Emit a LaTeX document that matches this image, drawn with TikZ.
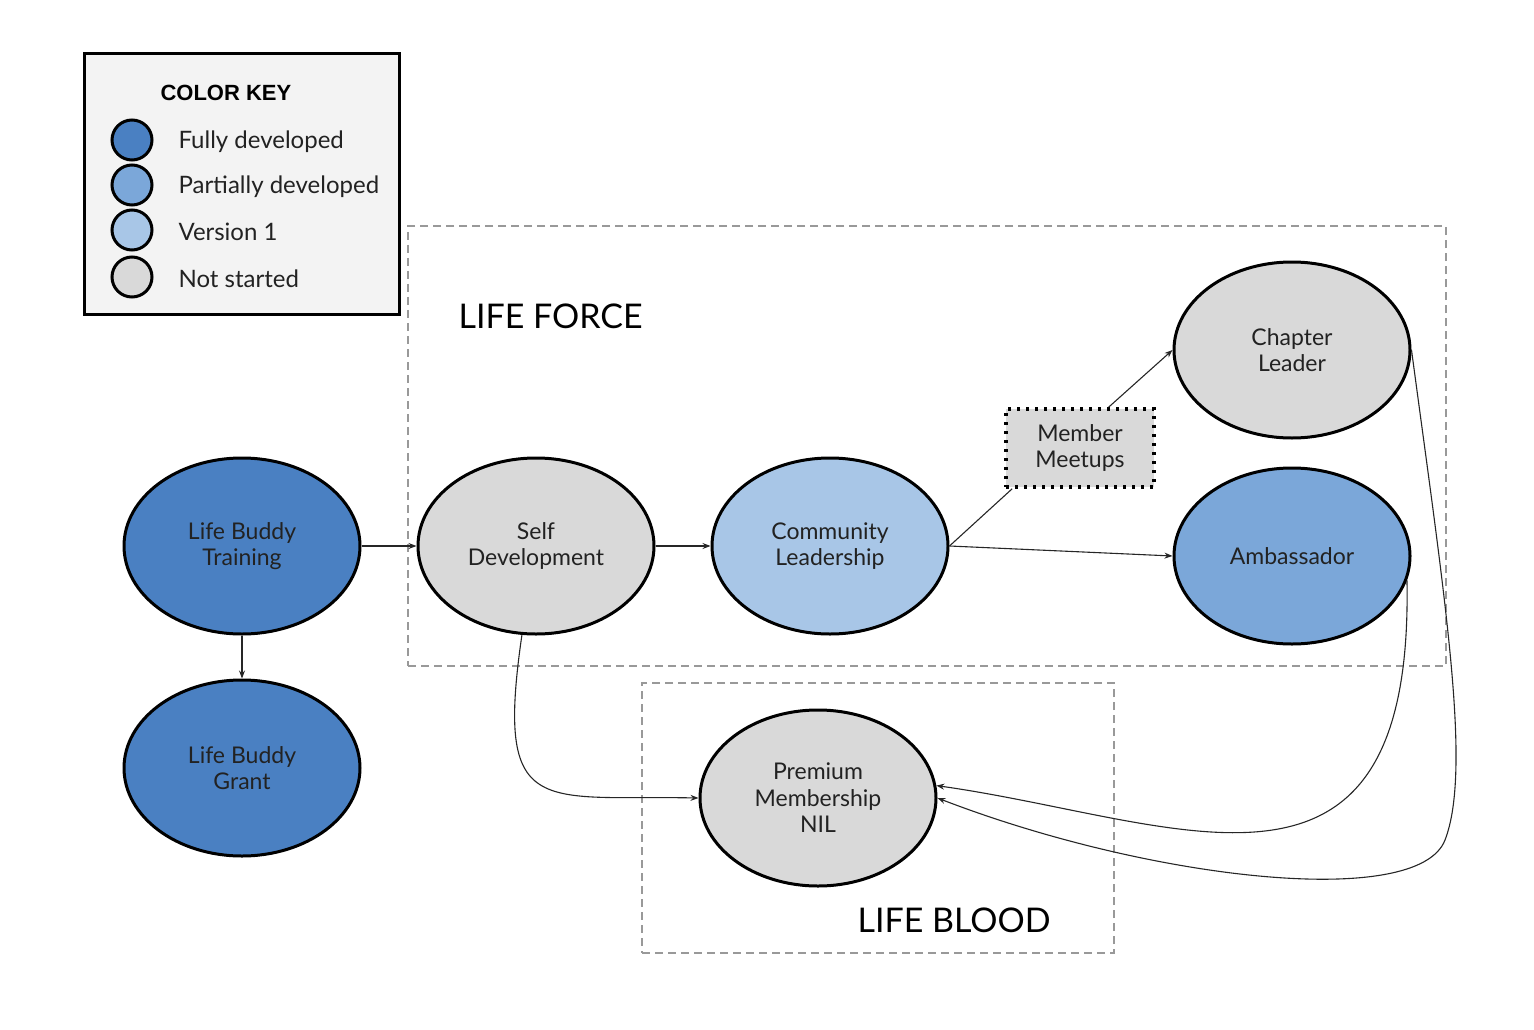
\documentclass[tikz,border=0pt]{standalone}
\usepackage{fontspec}
\setmainfont{Lato}
\newfontfamily\keyfont{Liberation Sans}
\usetikzlibrary{shapes.geometric,arrows.meta,calc}
\definecolor{cfull}{HTML}{4A80C2}
\definecolor{cpart}{HTML}{7BA7D9}
\definecolor{cver}{HTML}{A8C6E7}
\definecolor{cnot}{HTML}{D9D9D9}
\definecolor{ckey}{HTML}{F3F3F3}
\definecolor{cdash}{HTML}{999999}
\definecolor{ctext}{HTML}{222222}
\tikzset{
  stage/.style={ellipse, draw=black, line width=3pt, minimum width=236pt, minimum height=176pt,
    inner sep=0pt, align=center, text=ctext, font=\fontsize{23}{26.5}\selectfont},
  keydot/.style={circle, draw=black, line width=3pt, minimum size=40pt, inner sep=0pt},
  keytext/.style={anchor=west, text=ctext, font=\fontsize{24}{28}\selectfont},
  group/.style={draw=cdash, line width=1.4pt, dash pattern=on 8pt off 5pt},
  grouplabel/.style={anchor=base west, text=black, font=\fontsize{34}{38}\selectfont},
  conn/.style={line width=1.1pt, draw=black!85},
  arr/.style={conn, -{Stealth[length=8pt,width=6pt]}},
}
\begin{document}
\begin{tikzpicture}[x=1pt,y=-1pt]
\useasboundingbox (0,0) rectangle (1534,1030);
% legend
\node[draw=black, line width=3pt, fill=ckey, minimum width=315pt, minimum height=260pt, inner sep=0pt] (key) at (241.5,184) {};
\node[anchor=base west, font=\keyfont\bfseries\fontsize{22}{26}\selectfont] (keytitle) at (157,101) {COLOR KEY};
\node[keydot, fill=cfull] (k1) at (132,140) {};
\node[keydot, fill=cpart] (k2) at (132,185) {};
\node[keydot, fill=cver] (k3) at (132,230) {};
\node[keydot, fill=cnot] (k4) at (132,277) {};
\node[keytext] (t1) at (175,142) {Fully developed};
\node[keytext] (t2) at (175,187) {Partially developed};
\node[keytext] (t3) at (175,232) {Version 1};
\node[keytext] (t4) at (175,279) {Not started};
% groups
\node[group, minimum width=1038pt, minimum height=440pt, inner sep=0pt] (force) at (927,446) {};
\node[group, minimum width=472pt, minimum height=270pt, inner sep=0pt] (blood) at (878,818) {};
\node[grouplabel] (forcelbl) at (455,328) {LIFE FORCE};
\node[grouplabel] (bloodlbl) at (854,932) {LIFE BLOOD};
% stages
\node[stage, fill=cfull] (lbt) at (242,546) {Life Buddy\\Training};
\node[stage, fill=cfull] (lbg) at (242,768) {Life Buddy\\Grant};
\node[stage, fill=cnot] (sd) at (536,546) {Self\\Development};
\node[stage, fill=cver] (cl) at (830,546) {Community\\Leadership};
\node[stage, fill=cnot] (ch) at (1292,350) {Chapter\\Leader};
\node[stage, fill=cpart] (amb) at (1292,556) {Ambassador};
\node[stage, fill=cnot] (pm) at (818,798) {Premium\\Membership\\NIL};
\node[draw=black, fill=cnot, line width=3.5pt, dash pattern=on 3pt off 6pt,
  minimum width=148pt, minimum height=78pt, inner sep=0pt, align=center, text=ctext,
  font=\fontsize{23}{26.5}\selectfont] (mm) at (1080,448) {Member\\Meetups};
% connectors
\draw[arr] (lbt.east) -- (sd.west);
\draw[arr] (lbt.south) -- (lbg.north);
\draw[arr] (sd.east) -- (cl.west);
\draw[conn] (cl.east) -- (mm.-149);
\draw[arr] (mm.55) -- (ch.west);
\draw[arr] (cl.east) -- (amb.west);
\draw[arr] (sd.-99) .. controls (495,820) and (540,795) .. (pm.west);
\draw[arr] (amb.-12) .. controls (1414,940) and (1180,820) .. (pm.6);
\draw[arr] (ch.east) .. controls (1445,600) and (1472,770) .. (1445,840) .. controls (1418,910) and (1150,880) .. (pm.east);
\end{tikzpicture}
\end{document}
